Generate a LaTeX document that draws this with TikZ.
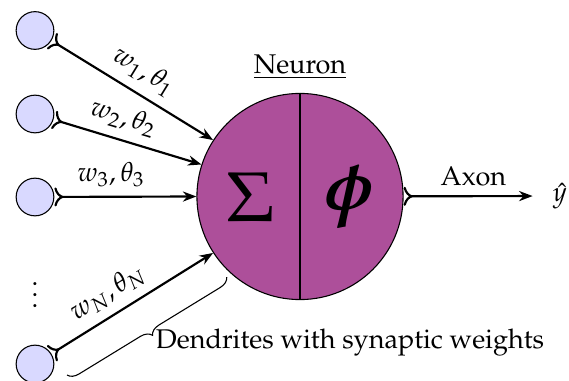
\documentclass[tikz,border=0pt]{standalone}
\usepackage[T1]{fontenc}
\usepackage{mathpazo}
\usepackage{amsmath}
\usepackage{bm}
\usetikzlibrary{arrows.meta,positioning,calc,decorations.pathreplacing}
\definecolor{SomaFill}{HTML}{AD4F9A}
\definecolor{InputFill}{HTML}{D9D9FF}
\tikzset{
  inputcell/.style={circle,draw,thin,fill=InputFill,minimum size=4.9mm,inner sep=0pt},
  synapse/.style={thick,{To[reversed]}-{Stealth[length=5pt]}},
  bigsym/.style={font=\fontsize{26}{30}\selectfont,inner sep=0pt},
}

\begin{document}
\begin{tikzpicture}[x=0.13mm,y=-0.13mm]
\useasboundingbox (0,0) rectangle (569,381);
\node[circle,draw,thin,fill=SomaFill,minimum size=26.8mm,inner sep=0pt] (neuron) at (300,196.5) {};
\draw[thin] (neuron.north) -- (neuron.south);
\node[bigsym] (sigma) at (251,197) {$\Sigma$};
\node[bigsym] (phi) at (349,197) {$\bm{\phi}$};
\node[above=0.5mm of neuron] (neuronlabel) {\underline{Neuron}};
\foreach \n/\y in {1/30.5,2/114,3/197,N/364}
  \node[inputcell] (in\n) at (35,\y) {};
\node (vdots) at (35,287) {$\vdots$};
\foreach \n/\a/\p in {1/147/0.5,2/162/0.43,3/180/0.4,N/213/0.42}
  \draw[synapse] (in\n) -- (neuron.\a) node[pos=\p,above,sloped] {$w_\n,\theta_\n$};
\node (yhat) at (560,196) {$\hat{y}$};
\draw[synapse,shorten >=1.4mm] (neuron) -- (yhat) node[midway,above] {Axon};
\coordinate (dendA) at (67,375);
\coordinate (dendB) at (227,277);
\draw[thin,decorate,decoration={brace,mirror,amplitude=4pt}] (dendA) -- (dendB);
\node (dendlabel) at (350,343) {Dendrites with synaptic weights};
\end{tikzpicture}
\end{document}
